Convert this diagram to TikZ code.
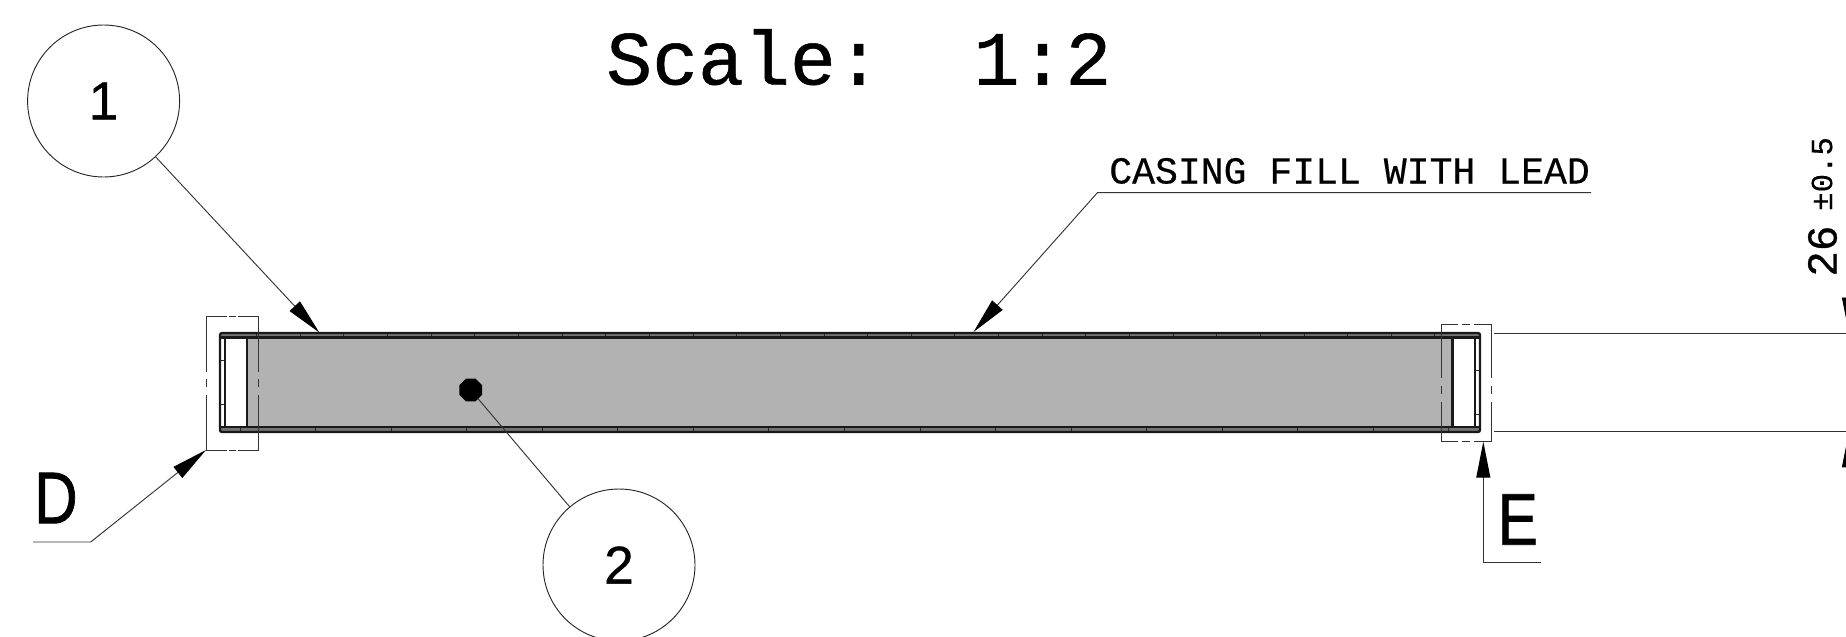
\documentclass[tikz,border=0pt]{standalone}
\usepackage{fontspec}
\setmainfont[FakeBold=0.6]{Liberation Sans}
\newfontfamily\letterf[FakeBold=1.1]{Liberation Sans}
\newfontfamily\monof[FakeBold=0.7]{Liberation Mono}
\newfontfamily\notef[FakeBold=0.4]{Liberation Mono}
\usetikzlibrary{arrows.meta,shapes.geometric}
\tikzset{
 x=0.75pt,y=-0.75pt,
 thinl/.style={draw=black!80,line width=0.7pt},
 tipped/.style={thinl,-{Triangle[length=27pt,width=10.5pt,black,fill=black]}},
 heavy/.style={draw=black!90,line width=1.7pt},
 strip/.style={draw=black!85,line width=0.75pt},
 callout/.style={circle,draw=black!85,line width=0.7pt,minimum size=114pt,inner sep=0pt,font=\fontsize{40}{40}\selectfont},
 chain/.style={draw=black!80,line width=0.7pt},
 letter/.style={inner sep=0pt,font=\letterf\fontsize{55}{55}\selectfont,xscale=0.82},
}
\begin{document}
\begin{tikzpicture}
\useasboundingbox (0,0) rectangle (1846,636);
\clip (0,0) rectangle (1846,636);
% body
\fill[black!30] (248,337) rectangle (1453,428);
\fill[black!55] (220,333) rectangle (1480,338);
\fill[black!55] (220,427) rectangle (1480,432);
\fill[white] (225,338) rectangle (246,427);
\fill[white] (1453,338) rectangle (1475,427);
\foreach \i in {0,...,27} \draw[strip] ({256.7+43.64*\i},333) -- ++(0,4.5);
\foreach \i in {0,...,16} \draw[strip] ({240+75.56*\i},427) -- ++(0,5);
\draw[strip] (220,360) -- (225,360) (220,404) -- (225,404);
\draw[strip] (1475,370) -- (1480,370) (1475,414) -- (1480,414);
\draw[heavy,rounded corners=1.5pt] (220,333) rectangle (1480,432);
\draw[heavy] (220,337.5) -- (1480,337.5) (220,427.3) -- (1480,427.3);
\draw[heavy] (225,337.5) -- (225,427.3) (247,337.5) -- (247,427.3);
\draw[heavy] (1452.5,337.5) -- (1452.5,427.3) (1475,337.5) -- (1475,427.3);
% detail box D
\draw[chain] (226.7,316.7) -- (206,316.7) -- (206,371.7);
\draw[chain] (206,379.3) -- (206,387.3) (206,395) -- (206,450) -- (226.7,450);
\draw[chain] (229.3,316.7) -- (236,316.7) (229.3,450) -- (236,450);
\draw[chain] (238.3,316.7) -- (258.5,316.7) -- (258.5,371.7);
\draw[chain] (258.5,379.3) -- (258.5,387.3) (258.5,395) -- (258.5,450) -- (238.3,450);
% detail box E
\draw[chain] (1458,324.3) -- (1441.7,324.3) -- (1441.7,378);
\draw[chain] (1441.7,386) -- (1441.7,394) (1441.7,402) -- (1441.7,441.7) -- (1458,441.7);
\draw[chain] (1462,324.3) -- (1470,324.3) (1462,441.7) -- (1470,441.7);
\draw[chain] (1474,324.3) -- (1491,324.3) -- (1491,378);
\draw[chain] (1491,386) -- (1491,394) (1491,402) -- (1491,441.7) -- (1474,441.7);
% callouts
\node[callout] (c1) at (103.6,101) {1};
\node[callout] (c2) at (619,565) {2};
\node[regular polygon,regular polygon sides=8,fill=black,minimum size=18.5pt,inner sep=0pt] (hole) at (470.7,390) {};
\coordinate (t1) at (319.3,332.5);
\draw[tipped] (c1) -- (t1);
\draw[thinl] (hole) -- (c2);
% casing note
\node[inner sep=0pt,anchor=base west,font=\notef\fontsize{28.6}{28.6}\selectfont] (note) at (1109,183.5) {CASING FILL WITH LEAD};
\coordinate (n0) at (1591,192.7);
\coordinate (n1) at (1097.4,192.7);
\coordinate (n2) at (973.5,332);
\draw[tipped] (n0) -- (n1) -- (n2);
% D
\node[letter,anchor=south west] (D) at (34,523.5) {D};
\coordinate (d0) at (33,542);
\coordinate (d1) at (90.7,542);
\coordinate (d2) at (206,450);
\draw[tipped] (d0) -- (d1) -- (d2);
% E
\node[letter,anchor=south west] (E) at (1497.5,545) {E};
\coordinate (e0) at (1540.7,562.7);
\coordinate (e1) at (1483.3,562.7);
\coordinate (e2) at (1483.3,441.7);
\draw[tipped] (e0) -- (e1) -- (e2);
% extension lines
\coordinate (x1) at (1494,333.5);
\coordinate (x2) at (1860,333.5);
\coordinate (x3) at (1494,431.3);
\coordinate (x4) at (1860,431.3);
\draw[thinl] (x1) -- (x2) (x3) -- (x4);
\coordinate (a1) at (1849,250);
\coordinate (a2) at (1849,333.5);
\coordinate (a3) at (1849,520);
\coordinate (a4) at (1849,431.3);
\draw[tipped] (a1) -- (a2);
\draw[tipped] (a3) -- (a4);
% dimension
\node[rotate=90,inner sep=0pt,anchor=west,font=\monof\fontsize{32}{32}\selectfont] (dim) at (1822.5,277) {26};
\node[rotate=90,inner sep=0pt,anchor=west,font=\notef\fontsize{23}{23}\selectfont] (tol) at (1822,211) {±0.5};
% title
\node[inner sep=0pt,anchor=base west,font=\monof\fontsize{57.4}{57.4}\selectfont] (title) at (606,84.5) {Scale:\ \ 1:2};
\end{tikzpicture}
\end{document}
